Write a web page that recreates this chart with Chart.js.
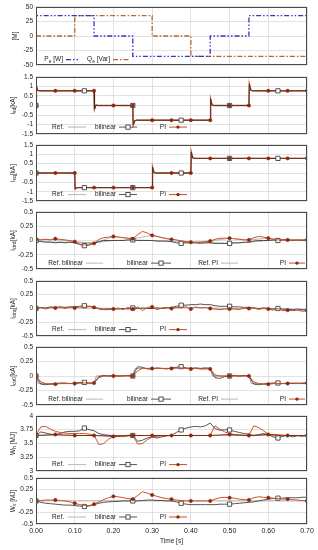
<!DOCTYPE html>
<html><head><meta charset="utf-8">
<script src="https://cdn.jsdelivr.net/npm/chart.js@4.4.0/dist/chart.umd.min.js"></script>
<style>
html,body{margin:0;padding:0;background:#fff;width:318px;height:550px;overflow:hidden;position:relative;}
canvas{position:absolute;left:0;}
</style></head><body>
<script>
// ---------- DATA ----------
const X_TICKS = [0, 0.1, 0.2, 0.3, 0.4, 0.5, 0.6, 0.7];
const PI_T  = [0,0.05,0.1,0.15,0.2,0.25,0.3,0.35,0.4,0.45,0.5,0.55,0.6,0.65,0.7];
const BIL_T = [0,0.125,0.25,0.375,0.5,0.625];
const T = [0,0.0125,0.025,0.0375,0.05,0.0625,0.075,0.0875,0.1,0.1125,0.125,0.1375,0.15,0.1625,0.175,0.1875,0.2,0.2125,0.225,0.2375,0.25,0.2625,0.275,0.2875,0.3,0.3125,0.325,0.3375,0.35,0.3625,0.375,0.3875,0.4,0.4125,0.425,0.4375,0.45,0.4625,0.475,0.4875,0.5,0.5125,0.525,0.5375,0.55,0.5625,0.575,0.5875,0.6,0.6125,0.625,0.6375,0.65,0.6625,0.675,0.6875,0.7];

// Panel 1: references
const PE_T = [0,0,0.15,0.15,0.25,0.25,0.45,0.45,0.55,0.55,0.7];
const PE   = [0,35,35,0,0,-35,-35,0,0,35,35];
const QE_T = [0,0.1,0.1,0.3,0.3,0.4,0.4,0.7];
const QE   = [0,0,35,35,0,0,-35,-35];

// Panel 2: i_sd
const SD_T   = [0,0.001,0.004,0.008,0.15,0.151,0.155,0.16,0.25,0.251,0.255,0.26,0.45,0.451,0.455,0.46,0.55,0.551,0.555,0.56,0.7];
const SD_REF = [0,1.02,0.8,0.77,0.77,-0.15,0.02,0,0,-1.0,-0.8,-0.77,-0.77,0.33,0.02,0,0,1.1,0.8,0.77,0.77];
const SD_BIL = [0,1.05,0.8,0.77,0.77,-0.18,0.02,0,0,-1.03,-0.8,-0.77,-0.77,0.35,0.02,0,0,1.12,0.8,0.77,0.77];
const SD_PI  = [0,1.04,0.8,0.77,0.77,-0.2,0.02,0,0,-1.02,-0.8,-0.77,-0.77,0.34,0.02,0,0,1.13,0.8,0.77,0.77];
const SD_PI_MARK  = [0,0.77,0.77,0.77,0,0,-0.77,-0.77,-0.77,-0.77,0,0,0.77,0.77,0.77];
const SD_BIL_MARK = [0,0.77,0,-0.77,0,0.77];

// Panel 3: i_sq
const SQ_T   = [0,0.1,0.101,0.105,0.11,0.3,0.301,0.305,0.31,0.4,0.401,0.405,0.41,0.7];
const SQ_REF = [0,0,-0.84,-0.78,-0.78,-0.78,0.3,0.02,0,0,1.1,0.8,0.78,0.78];
const SQ_BIL = [0,0,-0.86,-0.78,-0.78,-0.78,0.32,0.02,0,0,1.12,0.8,0.78,0.78];
const SQ_PI  = [0,0,-0.85,-0.78,-0.78,-0.78,0.32,0.02,0,0,1.13,0.8,0.78,0.78];
const SQ_PI_MARK  = [0,0,0,-0.78,-0.78,-0.78,-0.78,0,0,0.78,0.78,0.78,0.78,0.78,0.78];
const SQ_BIL_MARK = [0,-0.78,-0.78,0,0.78,0.78];

// Panel 4: i_cird
const CIRD_PI  = [0.02,0.01,0.02,0.01,0.03,0.02,0.01,0.0,-0.02,-0.06,-0.08,-0.06,-0.05,0.02,0.05,0.06,0.07,0.06,0.05,0.04,0.03,0.10,0.16,0.13,0.09,0.07,0.05,0.03,0.02,0.01,-0.01,-0.02,-0.03,-0.03,-0.03,-0.02,-0.01,0.02,0.04,0.04,0.04,0.03,0.02,0.01,0.01,0.05,0.07,0.06,0.04,0.02,0.01,0.01,0.01,0.01,0.0,0.01,0.01];
const CIRD_BIL = [0.0,-0.02,-0.03,-0.03,-0.04,-0.03,-0.04,-0.03,-0.04,-0.07,-0.09,-0.08,-0.05,-0.02,0.0,0.0,0.0,0.0,0.0,0.01,0.01,0.0,0.0,0.0,0.0,-0.01,-0.01,-0.01,-0.02,-0.04,-0.05,-0.04,-0.04,-0.04,-0.05,-0.04,-0.04,-0.05,-0.05,-0.05,-0.05,-0.04,-0.04,-0.03,-0.03,-0.01,0.0,0.0,0.0,0.01,0.0,0.01,0.01,0.0,0.01,0.0,0.01];
const CIRD_REF_BIL = [0,-0.03,-0.03,-0.04,0,0.01,0,-0.02,-0.04,-0.04,-0.05,-0.03,0,0.01,0.01];
const CIRD_REF_PI  = [0.02,0.02,-0.02,-0.05,0.07,0.03,0.09,0.02,-0.03,-0.01,0.04,0.01,0.04,0.01,0.01];

// Panel 5: i_cirq
const CIRQ_PI  = [0.0,0.02,-0.01,0.02,0.01,0.03,0.0,0.03,0.01,0.03,0.02,0.04,0.02,0.0,-0.01,0.0,-0.01,0.01,-0.02,0.02,-0.01,0.03,-0.04,0.02,0.03,-0.02,0.01,0.02,0.0,0.02,0.01,0.03,-0.01,0.03,0.01,0.02,0.0,-0.01,-0.02,-0.01,-0.01,-0.01,-0.02,0.01,0.0,0.02,-0.02,0.01,-0.01,-0.03,0.0,-0.04,-0.03,-0.04,-0.03,-0.05,-0.04];
const CIRQ_BIL = [0.0,0.02,0.01,0.03,0.02,0.03,0.02,0.03,0.03,0.04,0.05,0.04,0.03,-0.01,-0.02,-0.02,-0.01,-0.01,0.0,-0.01,0.01,0.0,0.01,0.0,0.0,0.01,0.0,0.01,0.02,0.04,0.06,0.06,0.07,0.07,0.08,0.07,0.07,0.05,0.04,0.04,0.04,0.03,0.03,0.02,0.02,0.01,0.0,0.01,0.0,-0.01,0.0,-0.01,-0.01,-0.02,-0.01,-0.02,-0.02];
const CIRQ_REF = [0,0.01,0.01,0.01,0,0,0.01,0.01,0.02,0.01,0,0,-0.01,-0.02,-0.03];

// Panel 6: i_cir0
const CIR0_PI  = [0.0,-0.10,-0.13,-0.14,-0.14,-0.13,-0.13,-0.13,-0.13,-0.12,-0.12,-0.12,-0.12,-0.03,0.0,0.0,0.0,0.0,0.01,0.0,0.0,0.09,0.13,0.13,0.13,0.13,0.13,0.13,0.13,0.14,0.14,0.13,0.12,0.13,0.12,0.12,0.12,0.02,0.0,0.0,0.0,0.0,0.0,0.0,0.0,-0.10,-0.13,-0.14,-0.14,-0.13,-0.13,-0.13,-0.13,-0.12,-0.13,-0.12,-0.12];
const CIR0_BIL = [0.0,-0.14,-0.15,-0.14,-0.13,-0.12,-0.12,-0.13,-0.12,-0.11,-0.11,-0.12,-0.12,-0.01,0.01,0.0,0.01,0.0,0.0,0.01,0.0,0.16,0.15,0.12,0.12,0.14,0.13,0.12,0.14,0.15,0.16,0.14,0.13,0.14,0.13,0.14,0.13,-0.03,-0.04,-0.01,0.0,0.01,0.0,0.01,0.0,-0.14,-0.15,-0.14,-0.13,-0.12,-0.12,-0.13,-0.12,-0.13,-0.12,-0.13,-0.12];
const CIR0_REF_T   = [0,0.006,0.15,0.156,0.25,0.256,0.45,0.456,0.55,0.556,0.7];
const CIR0_REF_BIL = [0,-0.13,-0.13,0,0,0.13,0.13,0,0,-0.13,-0.13];
const CIR0_REF_PI  = [0,-0.13,-0.13,0,0,0.13,0.13,0,0,-0.13,-0.13];

// Panel 7: W_h
const WH_PI  = [3.66,3.80,3.81,3.76,3.72,3.70,3.69,3.68,3.68,3.68,3.68,3.67,3.65,3.48,3.50,3.58,3.62,3.63,3.64,3.65,3.66,3.49,3.50,3.57,3.62,3.63,3.64,3.64,3.645,3.645,3.645,3.645,3.645,3.645,3.645,3.645,3.65,3.82,3.76,3.71,3.68,3.66,3.65,3.645,3.65,3.82,3.79,3.73,3.67,3.655,3.65,3.645,3.645,3.645,3.645,3.645,3.645];
const WH_BIL = [3.645,3.71,3.69,3.67,3.66,3.68,3.71,3.72,3.72,3.73,3.78,3.75,3.73,3.68,3.66,3.65,3.64,3.64,3.63,3.64,3.645,3.54,3.56,3.60,3.62,3.60,3.62,3.64,3.65,3.70,3.745,3.78,3.80,3.81,3.80,3.82,3.87,3.77,3.74,3.75,3.745,3.72,3.70,3.68,3.67,3.64,3.66,3.68,3.66,3.62,3.60,3.63,3.65,3.62,3.64,3.63,3.645];
const WH_PI_MARK = [3.645,3.663,3.645,3.645,3.628,3.645,3.645,3.645,3.645,3.645,3.663,3.645,3.663,3.645,3.645];
const FLAT_T = [0,0.7];
const WH_REF = [3.645,3.645];

// Panel 8: W_v
const WV_PI  = [0.0,0.01,0.02,0.02,0.02,0.01,0.0,-0.02,-0.05,-0.08,-0.10,-0.10,-0.07,-0.02,0.03,0.07,0.10,0.09,0.07,0.05,0.04,0.12,0.20,0.17,0.13,0.10,0.07,0.05,0.04,0.02,0.01,0.0,0.0,0.0,0.0,0.0,0.0,0.04,0.07,0.08,0.07,0.06,0.04,0.03,0.02,0.07,0.09,0.08,0.07,0.06,0.05,0.04,0.04,0.03,0.02,0.01,0.0];
const WV_BIL = [0.0,-0.03,-0.05,-0.06,-0.07,-0.08,-0.09,-0.09,-0.10,-0.11,-0.12,-0.11,-0.08,-0.05,-0.03,-0.02,-0.01,-0.01,0.0,0.0,0.0,0.0,0.01,0.02,0.02,0.01,0.01,0.0,0.0,-0.02,-0.05,-0.07,-0.08,-0.08,-0.08,-0.08,-0.08,-0.08,-0.07,-0.07,-0.07,-0.06,-0.05,-0.04,-0.03,-0.02,0.0,0.02,0.04,0.05,0.06,0.06,0.07,0.07,0.07,0.08,0.08];
const WV_REF = [0,0];

// ---------- STYLE ----------
const FONT = "'Liberation Sans', Arial, sans-serif";
const C_REF = '#a6a6a6', C_BIL = '#2b2b2b', C_PI = '#cc4f2a', C_PIM = '#8a2a0c';
const C_P = '#3434c4', C_Q = '#b8662f';
const xy = (xs, ys) => xs.map((x, i) => ({x: x, y: ys[i]}));

function lineDs(xs, ys, color, w, extra) {
  return Object.assign({data: xy(xs, ys), borderColor: color, borderWidth: w, pointRadius: 0, tension: 0, fill: false}, extra || {});
}
function markEvery(n, r) { return c => (c.dataIndex % n === 0 ? r : 0); }
function piDs(xs, ys, marks) {
  return lineDs(xs, ys, C_PI, 1, marks ? {pointRadius: markEvery(4, 1.7), pointStyle: 'circle', pointBackgroundColor: C_PIM, pointBorderColor: C_PIM, pointBorderWidth: 0.5} : {});
}
function bilDs(xs, ys, marks) {
  return lineDs(xs, ys, C_BIL, 0.8, marks ? {pointRadius: markEvery(10, 3), pointStyle: 'rect', pointBackgroundColor: '#fff', pointBorderColor: C_BIL, pointBorderWidth: 0.8} : {});
}
function piMarks(xs, ys, showLine) {
  return {data: xy(xs, ys), showLine: !!showLine, borderColor: C_PIM, borderWidth: 1, pointRadius: 1.7, pointStyle: 'circle', pointBackgroundColor: C_PIM, pointBorderColor: C_PIM, pointBorderWidth: 0.5};
}
function bilMarks(xs, ys) {
  return {data: xy(xs, ys), showLine: false, pointRadius: 3, pointStyle: 'rect', pointBackgroundColor: '#fff', pointBorderColor: C_BIL, pointBorderWidth: 0.8};
}

// ---------- LABEL / LEGEND PLUGIN ----------
function drawRich(ctx, segs, x, y, align) {
  const fs = 6.5, ss = 5;
  let w = 0;
  segs.forEach(s => { ctx.font = (s.sub ? ss : fs) + 'px ' + FONT; w += ctx.measureText(s.t).width; });
  let cx = align === 'right' ? x - w : (align === 'center' ? x - w / 2 : x);
  ctx.textAlign = 'left'; ctx.textBaseline = 'middle';
  segs.forEach(s => {
    ctx.font = (s.sub ? ss : fs) + 'px ' + FONT;
    ctx.fillText(s.t, cx, y + (s.sub ? 1.8 : 0));
    cx += ctx.measureText(s.t).width;
  });
}
function drawSample(ctx, st, x1, x2, y) {
  ctx.save();
  ctx.beginPath(); ctx.moveTo(x1, y); ctx.lineTo(x2, y);
  const m = (x1 + x2) / 2;
  if (st === 'ref') { ctx.strokeStyle = C_REF; ctx.lineWidth = 0.8; }
  if (st === 'bil') { ctx.strokeStyle = C_BIL; ctx.lineWidth = 0.8; }
  if (st === 'pi')  { ctx.strokeStyle = C_PI; ctx.lineWidth = 1; }
  if (st === 'P')   { ctx.strokeStyle = C_P; ctx.lineWidth = 1.3; ctx.setLineDash([5, 2, 1.5, 2, 1.5, 2]); }
  if (st === 'Q')   { ctx.strokeStyle = C_Q; ctx.lineWidth = 1.3; ctx.setLineDash([5, 2, 1.5, 2]); }
  ctx.stroke(); ctx.setLineDash([]);
  if (st === 'bil') { ctx.fillStyle = '#fff'; ctx.fillRect(m - 2.1, y - 2.1, 4.2, 4.2); ctx.strokeRect(m - 2.1, y - 2.1, 4.2, 4.2); }
  if (st === 'pi')  { ctx.fillStyle = C_PIM; ctx.beginPath(); ctx.arc(m, y, 1.7, 0, Math.PI * 2); ctx.fill(); }
  ctx.restore();
}
const gnuPlugin = {
  id: 'gnu',
  afterDatasetsDraw(chart, args, opts) {
    const ctx = chart.ctx, a = chart.chartArea;
    ctx.save();
    ctx.strokeStyle = '#4a4a4a'; ctx.lineWidth = 1;
    ctx.strokeRect(Math.round(a.left) + 0.5, Math.round(a.top) + 0.5, Math.round(a.right - a.left) - 1, Math.round(a.bottom - a.top) - 1);
    ctx.fillStyle = '#222';
    // y label
    ctx.save();
    ctx.translate(opts.ylx || 13, (a.top + a.bottom) / 2);
    ctx.rotate(-Math.PI / 2);
    drawRich(ctx, opts.ylabel, 0, 0, 'center');
    ctx.restore();
    // legend
    const y = a.bottom - opts.legendDy;
    (opts.legend || []).forEach(e => {
      ctx.fillStyle = '#222';
      drawRich(ctx, e.text, e.tx, y, 'right');
      drawSample(ctx, e.st, e.x1, e.x2, y);
    });
    ctx.restore();
  }
};

const LEG3 = [
  {text: [{t: 'Ref.'}], tx: 64, x1: 68, x2: 86, st: 'ref'},
  {text: [{t: 'bilinear'}], tx: 116, x1: 119, x2: 137, st: 'bil'},
  {text: [{t: 'PI'}], tx: 166, x1: 169, x2: 187, st: 'pi'}
];
const LEG4 = [
  {text: [{t: 'Ref. bilinear'}], tx: 83, x1: 86, x2: 103, st: 'ref'},
  {text: [{t: 'bilinear'}], tx: 148, x1: 151, x2: 171, st: 'bil'},
  {text: [{t: 'Ref. PI'}], tx: 218, x1: 221, x2: 238, st: 'ref'},
  {text: [{t: 'PI'}], tx: 286, x1: 289, x2: 305, st: 'pi'}
];

function makePanel(p) {
  const padTop = 6, padBot = p.last ? 26 : 6;
  const H = (p.bottom - p.top) + padTop + padBot;
  const cv = document.createElement('canvas');
  cv.width = 318; cv.height = H;
  cv.style.top = (p.top - padTop) + 'px';
  cv.style.width = '318px'; cv.style.height = H + 'px';
  document.body.appendChild(cv);
  new Chart(cv, {
    type: 'line',
    data: {datasets: p.datasets},
    options: {
      responsive: false, animation: false, devicePixelRatio: 1,
      layout: {padding: {top: padTop, bottom: p.last ? 2 : padBot, left: 0, right: 11}},
      plugins: {legend: {display: false}, tooltip: {enabled: false},
        gnu: {ylabel: p.ylabel, legend: p.legend, legendDy: p.legendDy || 6.5, ylx: p.ylx}},
      scales: {
        x: {type: 'linear', min: 0, max: 0.7,
          afterBuildTicks: s => { s.ticks = X_TICKS.map(v => ({value: v})); },
          ticks: {display: !!p.last, autoSkip: false, maxRotation: 0, font: {family: FONT, size: 7}, color: '#222', padding: 3,
            callback: v => Number(v).toFixed(2)},
          grid: {color: '#dadada', lineWidth: 0.8, drawTicks: false},
          border: {display: false},
          title: {display: !!p.last, text: 'Time [s]', font: {family: FONT, size: 6.5}, color: '#222', padding: {top: 2, bottom: 3}},
          afterFit: s => { s.height = p.last ? 24 : 0; }},
        y: {type: 'linear', min: p.ymin, max: p.ymax,
          afterBuildTicks: s => { s.ticks = p.yticks.map(v => ({value: v})); },
          ticks: {autoSkip: false, font: {family: FONT, size: 6.5}, color: '#222', padding: 3,
            callback: v => String(+Number(v).toFixed(2))},
          grid: {color: '#dadada', lineWidth: 0.8, drawTicks: false},
          border: {display: false},
          afterFit: s => { s.width = 36; }}
      }
    },
    plugins: [gnuPlugin]
  });
}

const YT_M = [-50, -25, 0, 25, 50];
const YT_15 = [-1.5, -1, -0.5, 0, 0.5, 1, 1.5];
const YT_05 = [-0.5, -0.25, 0, 0.25, 0.5];
const YT_W = [3, 3.25, 3.5, 3.75, 4];

// Panel 1
makePanel({top: 5.5, bottom: 66, ymin: -50, ymax: 50, yticks: YT_M, ylx: 15,
  ylabel: [{t: '[M]'}], legendDy: 5.5,
  legend: [
    {text: [{t: 'P'}, {t: 'e', sub: 1}, {t: ' [W]'}], tx: 63, x1: 66, x2: 80, st: 'P'},
    {text: [{t: 'Q'}, {t: 'e', sub: 1}, {t: ' [Var]'}], tx: 110, x1: 113, x2: 130, st: 'Q'}
  ],
  datasets: [
    lineDs(PE_T, PE, C_P, 1.3, {borderDash: [5, 2, 1.5, 2, 1.5, 2]}),
    lineDs(QE_T, QE, C_Q, 1.3, {borderDash: [5, 2, 1.5, 2]})
  ]});

// Panel 2
makePanel({top: 76, bottom: 135, ymin: -1.5, ymax: 1.5, yticks: YT_15,
  ylabel: [{t: 'i'}, {t: 'sd', sub: 1}, {t: '[kA]'}], legend: LEG3, legendDy: 7,
  datasets: [
    piMarks(PI_T, SD_PI_MARK), bilMarks(BIL_T, SD_BIL_MARK),
    lineDs(SD_T, SD_BIL, C_BIL, 0.7), lineDs(SD_T, SD_PI, C_PI, 1.4), lineDs(SD_T, SD_REF, C_REF, 0.8)
  ]});

// Panel 3
makePanel({top: 144, bottom: 202, ymin: -1.5, ymax: 1.5, yticks: YT_15,
  ylabel: [{t: 'i'}, {t: 'sq', sub: 1}, {t: '[kA]'}], legend: LEG3, legendDy: 6.5,
  datasets: [
    piMarks(PI_T, SQ_PI_MARK), bilMarks(BIL_T, SQ_BIL_MARK),
    lineDs(SQ_T, SQ_BIL, C_BIL, 0.7), lineDs(SQ_T, SQ_PI, C_PI, 1.4), lineDs(SQ_T, SQ_REF, C_REF, 0.8)
  ]});

// Panel 4
makePanel({top: 211, bottom: 270, ymin: -0.5, ymax: 0.5, yticks: YT_05,
  ylabel: [{t: 'i'}, {t: 'cird', sub: 1}, {t: '[kA]'}], legend: LEG4, legendDy: 6,
  datasets: [
    piDs(T, CIRD_PI, true), bilDs(T, CIRD_BIL, true),
    lineDs(PI_T, CIRD_REF_PI, C_REF, 0.8), lineDs(PI_T, CIRD_REF_BIL, C_REF, 0.8)
  ]});

// Panel 5
makePanel({top: 280, bottom: 337, ymin: -0.5, ymax: 0.5, yticks: YT_05,
  ylabel: [{t: 'i'}, {t: 'cirq', sub: 1}, {t: '[kA]'}], legend: LEG3, legendDy: 6.5,
  datasets: [
    piDs(T, CIRQ_PI, true), bilDs(T, CIRQ_BIL, true), lineDs(PI_T, CIRQ_REF, C_REF, 0.8)
  ]});

// Panel 6
makePanel({top: 346, bottom: 406, ymin: -0.5, ymax: 0.5, yticks: YT_05,
  ylabel: [{t: 'i'}, {t: 'cir0', sub: 1}, {t: '[kA]'}], legend: LEG4, legendDy: 6,
  datasets: [
    piDs(T, CIR0_PI, true), bilDs(T, CIR0_BIL, true),
    lineDs(CIR0_REF_T, CIR0_REF_PI, C_REF, 0.8), lineDs(CIR0_REF_T, CIR0_REF_BIL, C_REF, 0.8)
  ]});

// Panel 7
makePanel({top: 415, bottom: 472, ymin: 3, ymax: 4, yticks: YT_W,
  ylabel: [{t: 'W'}, {t: 'h', sub: 1}, {t: ' [MJ]'}], legend: LEG3, legendDy: 6.5,
  datasets: [
    piMarks(PI_T, WH_PI_MARK, true), piDs(T, WH_PI, false), bilDs(T, WH_BIL, true), lineDs(FLAT_T, WH_REF, C_REF, 0.8)
  ]});

// Panel 8
makePanel({top: 477, bottom: 524, ymin: -0.5, ymax: 0.5, yticks: YT_05, last: true,
  ylabel: [{t: 'W'}, {t: 'v', sub: 1}, {t: ' [MJ]'}], legend: LEG3, legendDy: 7,
  datasets: [
    piDs(T, WV_PI, true), bilDs(T, WV_BIL, true), lineDs(FLAT_T, WV_REF, C_REF, 0.8)
  ]});
</script>
</body></html>
